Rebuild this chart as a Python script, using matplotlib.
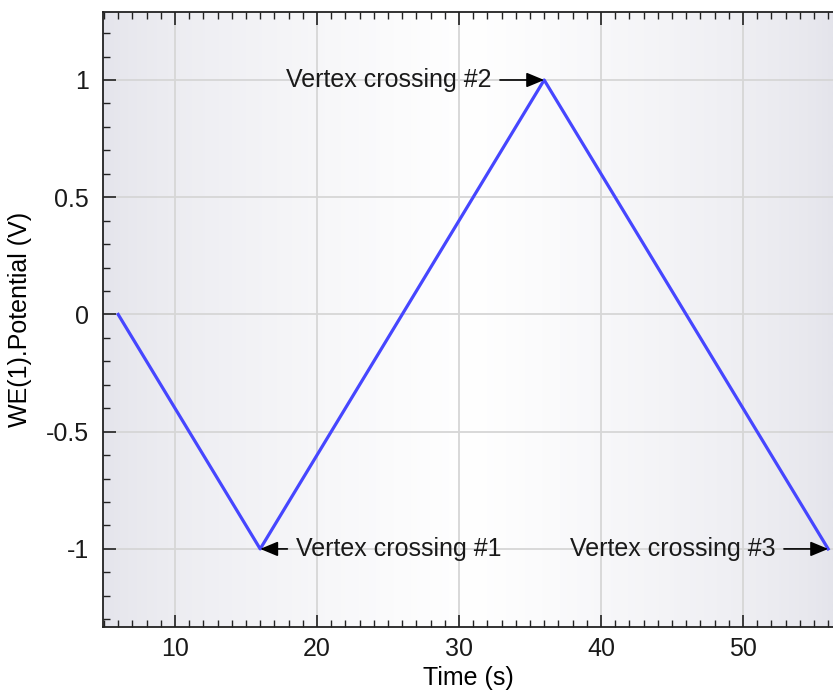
import numpy as np
import matplotlib.pyplot as plt

# cyclic voltammetry potential vs time
time = [6, 16, 36, 56]
potential = [0, -1, 1, -1]

vertex_labels = ['Vertex crossing #1', 'Vertex crossing #2', 'Vertex crossing #3']
vertex_t = [16, 36, 56]
vertex_e = [-1, 1, -1]

plt.rcParams['font.family'] = ['Liberation Sans', 'DejaVu Sans']
plt.rcParams['font.size'] = 18
plt.rcParams['text.color'] = '#1a1a1a'

fig = plt.figure(figsize=(8.33, 6.91), dpi=100)
ax = fig.add_axes([103/833, 64/691, 730/833, 615/691])

# grey -> white -> grey background gradient
t = np.linspace(0, 1, 256)
w = (1 - np.abs(2*t - 1)) ** 0.7
edge = np.array([228, 228, 235]) / 255
grad = edge[None, :] + (1 - edge[None, :]) * w[:, None]
ax.imshow(grad[None, :, :], extent=[0, 1, 0, 1], transform=ax.transAxes,
          aspect='auto', zorder=0)

ax.plot(time, potential, color='#4646ff', lw=2.3, zorder=3)

ax.set_xlim(4.93, 56.34)
ax.set_ylim(-1.333, 1.29)
ax.set_xticks([10, 20, 30, 40, 50])
ax.set_xticks(np.arange(5, 57, 1), minor=True)
ax.set_yticks([-1, -0.5, 0, 0.5, 1])
ax.set_yticklabels(['-1', '-0.5', '0', '0.5', '1'])
ax.set_yticks(np.arange(-1.3, 1.3, 0.1), minor=True)
ax.grid(True, which='major', color='#d6d6d6', lw=1.3, zorder=1)
ax.set_axisbelow(True)

ax.tick_params(which='both', direction='in', top=True, right=False,
               color='#222222', labelcolor='#1a1a1a')
ax.tick_params(which='major', length=9, width=1.2)
ax.tick_params(which='minor', length=5, width=1.0)
ax.tick_params(axis='x', pad=7)
ax.tick_params(axis='y', pad=10)
ax.spines['right'].set_visible(False)
for s in ['left', 'bottom', 'top']:
    ax.spines[s].set_linewidth(1.3)
    ax.spines[s].set_color('#222222')

ax.set_xlabel('Time (s)', labelpad=4)
ax.set_ylabel('WE(1).Potential (V)', labelpad=10)

arrow = dict(arrowstyle='-|>,head_length=0.6,head_width=0.25', color='black',
             lw=1.2, shrinkA=4, shrinkB=0)
ax.annotate(vertex_labels[0], xy=(vertex_t[0], vertex_e[0]), xytext=(18.5, -1),
            ha='left', va='center', arrowprops=arrow, zorder=4)
ax.annotate(vertex_labels[1], xy=(vertex_t[1], vertex_e[1]), xytext=(32.3, 1.0),
            ha='right', va='center', arrowprops=arrow, zorder=4)
ax.annotate(vertex_labels[2], xy=(vertex_t[2], vertex_e[2]), xytext=(52.3, -1),
            ha='right', va='center', arrowprops=arrow, zorder=4)

fig.savefig('out.png', dpi=100)
